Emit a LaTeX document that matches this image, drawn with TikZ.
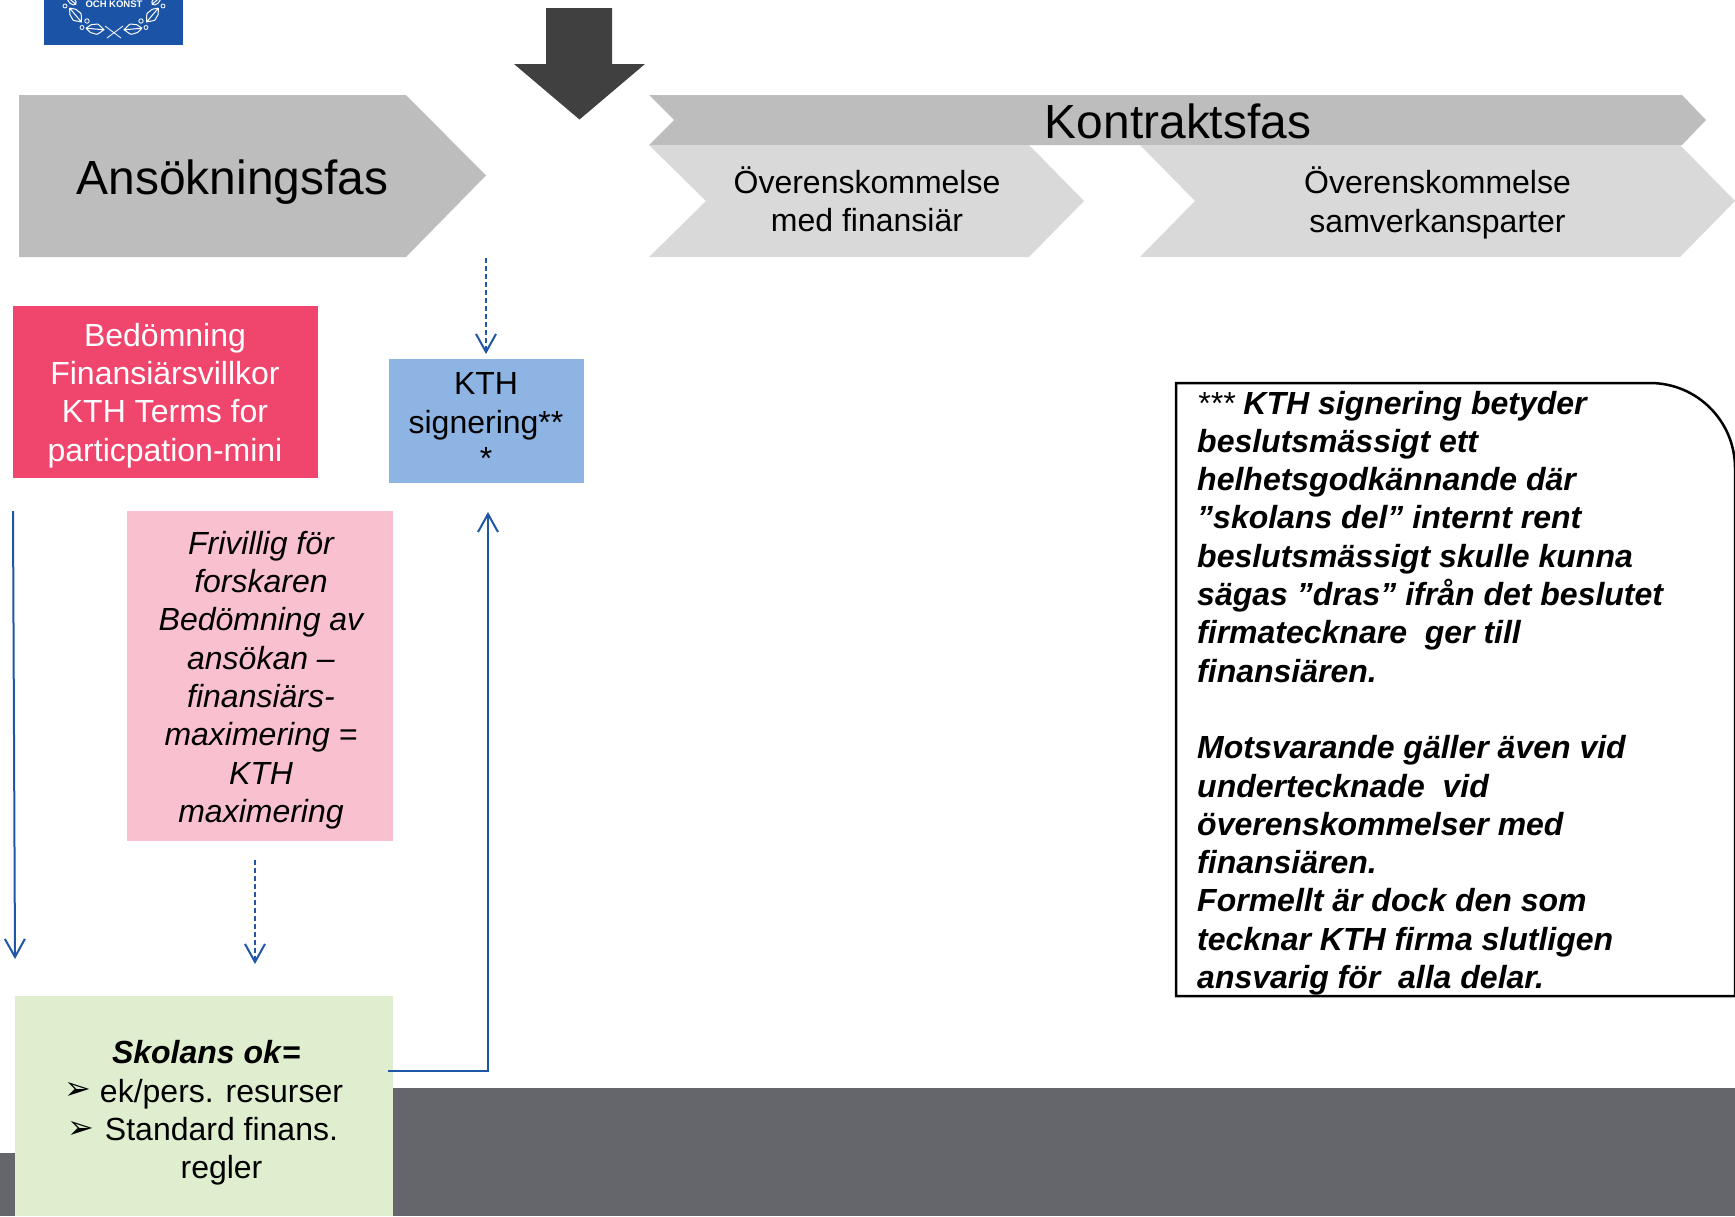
\documentclass[tikz,border=0pt]{standalone}
\usepackage{fontspec}
\setmainfont{Liberation Sans}
\newfontfamily\symfont{DejaVu Sans}
\usetikzlibrary{arrows.meta,positioning}
\definecolor{kthblue}{HTML}{1B54A7}
\definecolor{linkblue}{HTML}{1F56A8}
\definecolor{darkarrow}{HTML}{404040}
\definecolor{phasedark}{HTML}{BDBDBD}
\definecolor{phaselight}{HTML}{D9D9D9}
\definecolor{redbox}{HTML}{F0466D}
\definecolor{bluebox}{HTML}{8DB4E2}
\definecolor{pinkbox}{HTML}{F9C0CF}
\definecolor{greenbox}{HTML}{E0EED0}
\definecolor{band}{HTML}{65666B}
\tikzset{
  x=1pt,y=-1pt,
  bodytext/.style={font=\fontsize{32}{38.3}\selectfont,align=center,inner sep=0pt},
  bignote/.style={font=\fontsize{32}{38.3}\selectfont\bfseries\itshape,align=left,inner sep=0pt,anchor=west},
  link/.style={draw=linkblue,line width=2pt,-{Straight Barb[length=18pt,width=20pt,line width=2pt]}},
  dashlink/.style={link,dash pattern=on 5pt off 3pt},
  leaf/.style={draw=white,line width=1pt,fill=none},
}
\begin{document}
\begin{tikzpicture}
\useasboundingbox (0,0) rectangle (1735,1216);
% grey band
\fill[band] (393,1088) rectangle (1735,1216);
\fill[band] (0,1153) rectangle (15,1216);
% logo
\fill[kthblue] (44,0) rectangle (183,45);
\node[inner sep=0pt,text=white,font=\fontsize{9.5}{10}\selectfont\bfseries] (logotext) at (114,4.5) {OCH KONST};
\foreach \s in {1,-1}{
  \begin{scope}[shift={(114,0)},xscale=\s]
    % large leaves
    \foreach \px/\py/\ang in {-38.5/15/-50,-19/29/-5}{
      \draw[leaf,shift={(\px,\py)},rotate=\ang] (-9,0) -- (9,0)
        (-9,0) .. controls (-7,-3) and (-5,-2) .. (-4,-4) .. controls (-2,-6) and (0,-3) .. (1,-5)
        .. controls (3,-6) and (5,-3) .. (9,0)
        .. controls (5,3) and (3,6) .. (1,5) .. controls (0,3) and (-2,6) .. (-4,4)
        .. controls (-5,2) and (-7,3) .. (-9,0);
    }
    \draw[leaf,shift={(-42,1)},rotate=-40] (-5,0) -- (5,0) (0,0) ellipse[x radius=5,y radius=3];
    % acorns
    \draw[leaf,line width=0.8pt] (-49,6) circle[radius=2];
    \draw[leaf,line width=0.8pt] (-27,21) circle[radius=2.2];
    \draw[leaf,line width=0.8pt] (-32,27.5) circle[radius=2];
    % crossing
    \draw[leaf,line width=0.8pt] (-9,26) -- (7,38);
  \end{scope}
}
% big arrow
\fill[darkarrow] (546,8) -- (612,8) -- (612,64) -- (645,64) -- (579.5,119.5) -- (514,64) -- (546,64) -- cycle;
% phases
\fill[phasedark] (19,95) -- (406,95) -- (486,175.5) -- (406,257) -- (19,257) -- cycle;
\fill[phasedark] (649,95) -- (1682,95) -- (1706,120) -- (1682,145) -- (649,145) -- (674,120) -- cycle;
\fill[phaselight] (649,145) -- (1029,145) -- (1084,201) -- (1029,257) -- (649,257) -- (706,201) -- cycle;
\fill[phaselight] (1140,145) -- (1680,145) -- (1735,201) -- (1680,257) -- (1140,257) -- (1195,201) -- cycle;
\node[inner sep=0pt,font=\fontsize{47.9}{50}\selectfont] (ansok) at (232.5,182.5) {Ansökningsfas};
\node[inner sep=0pt,font=\fontsize{47.9}{50}\selectfont] (kontrakt) at (1178,121) {Kontraktsfas};
\node[bodytext] (fin) at (867,199.5) {Överenskommelse\\med finansiär};
\node[bodytext] (sam) at (1437.5,203) {Överenskommelse\\samverkansparter};
% boxes
\path[fill=redbox] (13,306) rectangle (318,478);
\node[bodytext,text=white] (bed) at (165,395.5) {Bedömning\\Finansiärsvillkor\\KTH Terms for\\particpation-mini};
\path[fill=bluebox] (389,359) rectangle (584,483);
\node[bodytext] (kth) at (486,421) {KTH\\signering**\\[-2pt]*};
\path[fill=pinkbox] (127,511) rectangle (393,841);
\node[bodytext,font=\fontsize{32}{38.3}\selectfont\itshape] (friv) at (261,680) {Frivillig för\\forskaren\\Bedömning av\\ansökan –\\finansiärs-\\maximering =\\KTH\\maximering};
\path[fill=greenbox] (15,996) rectangle (393,1216);
\node[bodytext] (skol) at (221.5,1113) {\textbf{\textit{Skolans ok}=}\hspace*{30pt}\\ek/pers. resurser\\Standard finans.\\regler};
\node[inner sep=0pt,font=\symfont\fontsize{32}{32}\selectfont] (b1) at (77.5,1091) {➢};
\node[inner sep=0pt,font=\symfont\fontsize{32}{32}\selectfont] (b2) at (81,1129.5) {➢};
% note
\draw[line width=2.5pt,fill=white] (1176,996) -- (1176,383) -- (1650,383) arc[start angle=-90,end angle=0,radius=85] -- (1735,996) -- cycle;
\node[bignote] (note) at (1197,693) {\textmd{***} KTH signering betyder\\beslutsmässigt ett\\helhetsgodkännande där\\”skolans del” internt rent\\beslutsmässigt skulle kunna\\sägas ”dras” ifrån det beslutet\\firmatecknare\ \ ger till\\finansiären.\\[38.3pt]Motsvarande gäller även vid\\undertecknade\ \ vid\\överenskommelser med\\finansiären.\\Formellt är dock den som\\tecknar KTH firma slutligen\\ansvarig för\ \ alla delar.};
% connectors
\coordinate (c1a) at (486,258); \coordinate (c1b) at (486,354);
\draw[dashlink] (c1a) -- (c1b);
\coordinate (c2a) at (13,511); \coordinate (c2b) at (15,959);
\draw[link] (c2a) -- (c2b);
\coordinate (c3a) at (255,860); \coordinate (c3b) at (255,964);
\draw[dashlink] (c3a) -- (c3b);
\coordinate (c4a) at (388,1071); \coordinate (c4b) at (488,1071); \coordinate (c4c) at (488,512);
\draw[link] (c4a) -- (c4b) -- (c4c);
\end{tikzpicture}
\end{document}
